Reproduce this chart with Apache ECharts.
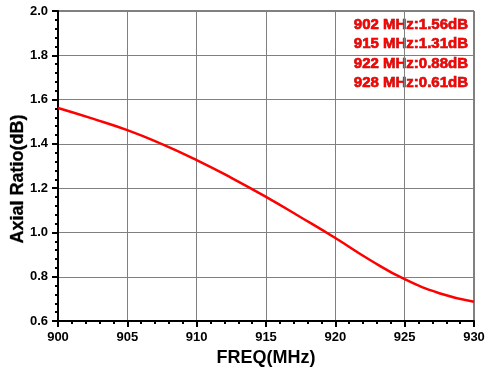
<!DOCTYPE html>
<html><head><meta charset="utf-8">
<script src="https://cdn.jsdelivr.net/npm/echarts@6/dist/echarts.min.js"></script>
<style>html,body{margin:0;padding:0;background:#fff}#c{width:488px;height:372px}</style>
</head><body><div id="c"></div>
<script>
var freq = [900, 902.5, 905, 907.5, 910, 912.5, 915, 917.5, 920, 922.5, 925, 927.5, 930];
var axialRatio = [1.562, 1.514, 1.462, 1.399, 1.327, 1.247, 1.161, 1.069, 0.975, 0.876, 0.789, 0.726, 0.687];
var notes = ['902 MHz:1.56dB', '915 MHz:1.31dB', '922 MHz:0.88dB', '928 MHz:0.61dB'];
var xTitle = 'FREQ(MHz)';
var yTitle = 'Axial Ratio(dB)';

var font = '"Liberation Sans", Arial, sans-serif';
var chart = echarts.init(document.getElementById('c'), null, {renderer: 'canvas'});
var graphics = notes.map(function (t, i) {
  return {type: 'text', x: 468, y: 24.5 + i * 19.6,
    style: {text: t, fill: '#ff0000', font: 'bold 15px ' + font, stroke: '#800000', lineWidth: 0.6,
      textAlign: 'right', textVerticalAlign: 'middle'}};
});
graphics.push({type: 'text', x: 18, y: 179, rotation: Math.PI / 2,
  style: {text: yTitle, fill: '#000', font: 'bold 18px ' + font, stroke: '#000', lineWidth: 0.3,
    textAlign: 'center', textVerticalAlign: 'middle'}});
chart.setOption({
  animation: false,
  grid: {left: 58, right: 14, top: 11, bottom: 50, show: true, borderColor: '#000', borderWidth: 1},
  xAxis: {
    type: 'value', min: 900, max: 930, interval: 5,
    name: xTitle, nameLocation: 'middle', nameGap: 27,
    nameTextStyle: {fontFamily: font, fontWeight: 'bold', fontSize: 18, color: '#000'},
    axisLine: {lineStyle: {color: '#000', width: 2}},
    axisTick: {show: true, inside: false, length: 6, lineStyle: {color: '#000', width: 2}},
    minorTick: {show: true, splitNumber: 5, length: 3, lineStyle: {color: '#000', width: 2}},
    splitLine: {show: true, lineStyle: {color: '#808080', width: 1}},
    axisLabel: {fontFamily: font, fontWeight: 'bold', fontSize: 13, color: '#000', margin: 10}
  },
  yAxis: {
    type: 'value', min: 0.6, max: 2.0, interval: 0.2,
    axisLine: {show: true, lineStyle: {color: '#000', width: 2}},
    axisTick: {show: true, inside: false, length: 6, lineStyle: {color: '#000', width: 2}},
    minorTick: {show: true, splitNumber: 5, length: 3, lineStyle: {color: '#000', width: 2}},
    splitLine: {show: true, lineStyle: {color: '#808080', width: 1}},
    axisLabel: {fontFamily: font, fontWeight: 'bold', fontSize: 13, color: '#000', margin: 10,
      formatter: function (v) { return v.toFixed(1); }}
  },
  graphic: graphics,
  series: [{
    type: 'line', data: freq.map(function (f, i) { return [f, axialRatio[i]]; }),
    smooth: 0.5, showSymbol: false, lineStyle: {color: '#ff0000', width: 2.5}
  }]
});
</script></body></html>
